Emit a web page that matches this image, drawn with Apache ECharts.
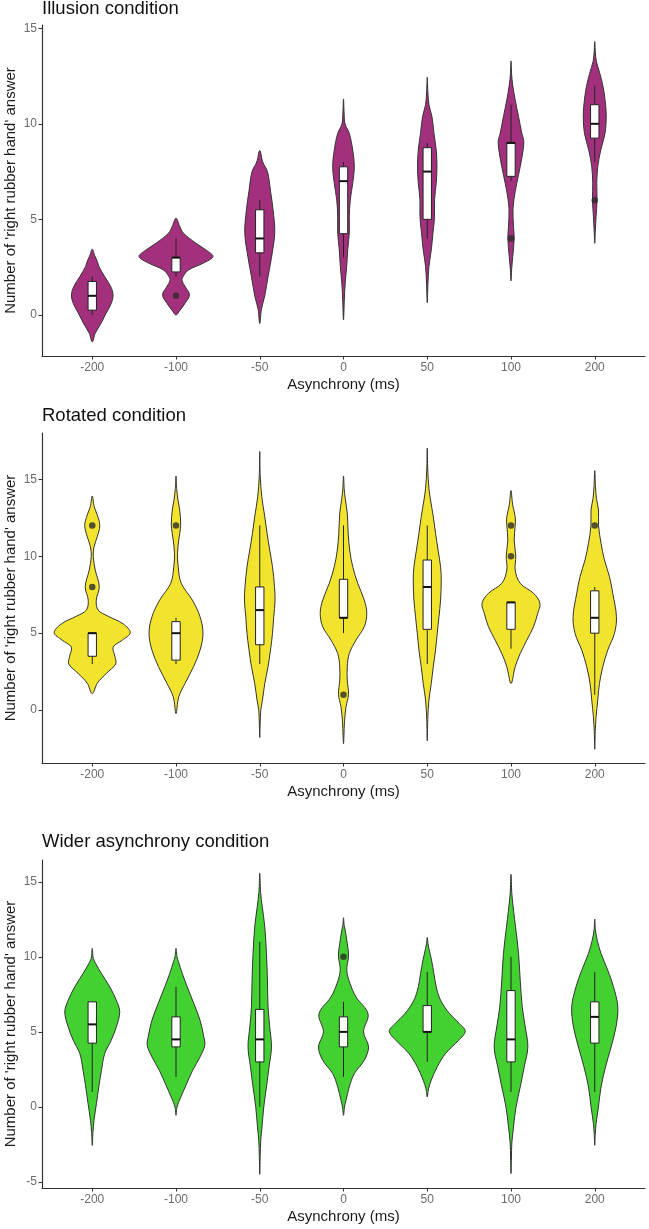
<!DOCTYPE html>
<html>
<head>
<meta charset="utf-8">
<script src="https://cdn.jsdelivr.net/npm/echarts@6/dist/echarts.min.js"></script>
<style>
html,body{margin:0;padding:0;background:#fff;}
#chart{width:649px;height:1229px;}
</style>
</head>
<body>
<div id="chart"></div>
<script>
// ---------- data ----------
const categories = ['-200', '-100', '-50', '0', '50', '100', '200'];

// violin profiles: [response value, half-width in category units], top to bottom
const illusionViolins = [
  [[3.44,0],[3.1,.030],[2.8,.060],[2.53,.080],[2.0,.149],[1.48,.221],[1.05,.248],[0.6,.227],[0.1,.167],[-0.42,.107],[-0.96,.036],[-1.41,0]],
  [[5.06,0],[4.6,.048],[4.27,.090],[3.75,.239],[3.4,.358],[3.05,.442],[2.7,.322],[2.35,.149],[2.0,.084],[1.8,.072],[1.5,.107],[1.05,.161],[0.6,.107],[0.25,.048],[0,0]],
  [[8.6,0],[8.0,.036],[7.5,.092],[6.5,.128],[5.5,.159],[4.3,.179],[3.0,.140],[2.0,.099],[1.0,.060],[0.3,.020],[-0.45,0]],
  [[11.3,0],[10.6,.007],[10.0,.018],[9.5,.069],[8.63,.110],[7.76,.129],[6.89,.110],[6.02,.081],[5.14,.069],[4.27,.069],[3.4,.050],[2.53,.038],[1.66,.020],[0.8,.010],[-0.26,0]],
  [[12.44,0],[11.7,.007],[11.0,.020],[10.38,.056],[9.51,.080],[8.63,.107],[7.76,.116],[6.89,.107],[6.02,.087],[5.14,.087],[4.27,.068],[3.4,.048],[2.53,.020],[1.6,.008],[0.64,0]],
  [[13.29,0],[12.6,.007],[12.04,.020],[11.25,.050],[10.38,.090],[9.51,.129],[9.07,.153],[8.2,.129],[7.33,.090],[6.45,.050],[5.58,.024],[4.62,.030],[4.01,.038],[3.05,.021],[2.4,.008],[1.78,0]],
  [[14.3,0],[13.7,.008],[13.26,.020],[12.65,.060],[11.95,.099],[11.25,.123],[10.47,.137],[9.51,.123],[8.63,.072],[7.76,.036],[6.89,.024],[6.02,.027],[5.14,.016],[4.4,.007],[3.75,0]]
];
const rotatedViolins = [
  [[13.91,0],[13.2,.024],[12.68,.060],[12.0,.090],[11.27,.060],[10.6,.021],[9.97,.012],[9.1,.036],[8.02,.084],[7.15,.048],[6.5,.070],[6.1,.190],[5.6,.370],[5.03,.454],[4.55,.360],[4.1,.250],[3.5,.270],[3.0,.280],[2.4,.170],[1.75,.060],[1.08,0]],
  [[15.21,0],[14.4,.008],[13.65,.024],[13.0,.044],[12.0,.056],[11.05,.033],[10.19,.018],[9.32,.026],[8.24,.063],[7.15,.195],[6.07,.287],[4.98,.322],[3.9,.287],[2.82,.209],[1.73,.107],[0.87,.033],[-0.22,0]],
  [[16.8,0],[15.2,.006],[13.87,.024],[12.57,.060],[11.49,.087],[10.4,.119],[9.32,.152],[8.02,.176],[7.15,.183],[6.07,.167],[4.98,.152],[3.9,.128],[2.82,.099],[1.73,.060],[0.65,.032],[0,.012],[-0.9,.005],[-1.78,0]],
  [[15.21,0],[14.4,.008],[13.76,.020],[12.79,.045],[11.49,.056],[10.4,.074],[9.32,.110],[8.24,.170],[7.15,.248],[6.29,.278],[5.42,.248],[4.55,.149],[3.68,.069],[2.82,.045],[1.95,.045],[1.02,.060],[0.22,.030],[-0.76,.012],[-2.17,0]],
  [[17.01,0],[15.6,.006],[14.41,.020],[13.65,.039],[12.57,.072],[11.49,.099],[10.4,.129],[9.32,.159],[8.45,.167],[7.15,.159],[6.07,.140],[4.98,.119],[3.9,.099],[2.82,.072],[1.73,.048],[0.65,.020],[-0.6,.006],[-1.99,0]],
  [[14.26,0],[13.33,.020],[12.57,.050],[12.0,.050],[11.05,.038],[10.01,.057],[9.1,.050],[8.24,.110],[7.59,.269],[6.94,.346],[6.29,.319],[5.42,.269],[4.55,.189],[3.68,.110],[2.82,.050],[1.73,0]],
  [[15.56,0],[14.6,.008],[13.76,.020],[13.0,.045],[12.0,.045],[10.84,.075],[9.75,.116],[8.67,.176],[7.59,.215],[6.07,.259],[4.98,.235],[3.9,.155],[2.82,.096],[1.73,.056],[0.65,.036],[-0.43,.016],[-1.4,.006],[-2.54,0]]
];
const widerViolins = [
  [[10.56,0],[9.9,.012],[9.56,.040],[8.89,.110],[8.0,.209],[7.11,.287],[6.33,.328],[5.33,.287],[4.44,.227],[3.56,.149],[2.44,.110],[1.33,.078],[0.22,.050],[-0.89,.021],[-1.7,.008],[-2.56,0]],
  [[10.56,0],[10.0,.012],[9.67,.030],[8.89,.075],[8.0,.134],[6.89,.213],[5.78,.287],[4.67,.332],[4.11,.344],[3.33,.287],[2.44,.199],[1.33,.110],[0.56,.050],[0,.012],[-0.56,0]],
  [[15.56,0],[14.3,.010],[13.33,.030],[12.0,.060],[10.22,.080],[8.44,.092],[6.67,.099],[5.33,.119],[4.0,.140],[2.67,.111],[1.33,.080],[0,.048],[-1.33,.027],[-2.22,.012],[-3.3,.005],[-4.49,0]],
  [[12.6,0],[12.1,.008],[11.78,.020],[10.89,.045],[10.04,.060],[9.11,.039],[8.22,.078],[7.33,.149],[6.2,.293],[5.0,.239],[4.0,.299],[3.11,.248],[2.22,.129],[1.33,.069],[0.44,.030],[0,.012],[-0.56,0]],
  [[11.29,0],[10.9,.008],[10.56,.020],[9.78,.051],[8.89,.080],[8.0,.107],[7.11,.159],[6.22,.266],[5.56,.382],[5.04,.454],[4.44,.374],[3.56,.219],[2.67,.119],[1.78,.048],[1.2,.015],[0.67,0]],
  [[15.49,0],[14.2,.010],[13.11,.030],[12.0,.054],[10.22,.090],[8.44,.110],[6.67,.134],[5.33,.170],[4.0,.201],[2.67,.158],[1.33,.110],[0,.060],[-1.33,.030],[-2.4,.010],[-3.4,.005],[-4.44,0]],
  [[12.51,0],[11.8,.008],[11.11,.030],[10.22,.075],[9.11,.155],[8.0,.224],[6.67,.275],[5.33,.254],[4.0,.195],[2.67,.129],[1.33,.075],[0,.044],[-1.11,.016],[-1.8,.006],[-2.56,0]]
];

// box stats: [lower whisker, q1, median, q3, upper whisker]
const illusionBoxes = [[0,0.25,1,1.75,2],[2,2.25,3,3,4],[2,3.25,4,5.5,6],[3,4.25,7,7.75,8],[4,5,7.5,8.75,9],[7,7.25,9,9,11],[8,9.25,10,11,12]];
const rotatedBoxes  = [[3,3.5,5,5,5],[3,3.25,5,5.75,6],[3,4.25,6.5,8,12],[5,6,6,8.5,12],[3,5.25,8,9.75,12],[4,5.25,7,7,7],[1,5,6,7.75,8]];
const widerBoxes    = [[1,4.25,5.5,7,7],[2,4,4.5,6,8],[0,3,4.5,6.5,11],[2,4,5,6,7],[3,5,5,6.75,9],[1,3,4.5,7.75,10],[1,4.25,6,7,9]];

// outliers: [category, value]
const illusionOutliers = [['-100',1],['100',4],['200',6]];
const rotatedOutliers  = [['-200',8],['-200',12],['-100',12],['0',1],['100',10],['100',12],['200',12]];
const widerOutliers    = [['0',10]];

// y tick labels
const illusionTicks = [0,5,10,15];
const rotatedTicks  = [0,5,10,15];
const widerTicks    = [-5,0,5,10,15];

// ---------- chart ----------
const panels = [
  {title:'Illusion condition', violins:illusionViolins, boxes:illusionBoxes, outliers:illusionOutliers, ticks:illusionTicks,
   color:'#a3307d', ymin:-2.15, ymax:15.17, top:25, height:331, titleY:9},
  {title:'Rotated condition', violins:rotatedViolins, boxes:rotatedBoxes, outliers:rotatedOutliers, ticks:rotatedTicks,
   color:'#f2e42c', ymin:-3.43, ymax:18.0, top:433, height:330, titleY:416},
  {title:'Wider asynchrony condition', violins:widerViolins, boxes:widerBoxes, outliers:widerOutliers, ticks:widerTicks,
   color:'#43d131', ymin:-5.4, ymax:16.45, top:860, height:328, titleY:842}
];

const FONT = '"Liberation Sans", Arial, sans-serif';
const catPos = categories.map((c, k) => k + 1);
const grid = [], xAxis = [], yAxis = [], series = [], graphic = [];

panels.forEach((p, n) => {
  grid.push({left:42, right:4, top:p.top, height:p.height, containLabel:false, outerBoundsMode:'none'});
  xAxis.push({
    type:'value', gridIndex:n, min:0.4, max:7.6,
    name:'Asynchrony (ms)', nameLocation:'middle', nameGap:21, nameMoveOverlap:false,
    nameTextStyle:{fontFamily:FONT, fontSize:15, color:'#1a1a1a'},
    axisLine:{onZero:false, lineStyle:{color:'#333', width:1.2}},
    axisTick:{show:true, customValues:catPos, length:3.5, lineStyle:{color:'#333', width:1}},
    axisLabel:{customValues:catPos, formatter:v => categories[Math.round(v) - 1], margin:6,
      fontFamily:FONT, fontSize:12, color:'#6b6b6b'},
    splitLine:{show:false}
  });
  yAxis.push({
    type:'value', gridIndex:n, min:p.ymin, max:p.ymax,
    name:"Number of 'right rubber hand' answer", nameLocation:'middle', nameGap:24, nameRotate:90, nameMoveOverlap:false,
    nameTextStyle:{fontFamily:FONT, fontSize:15, color:'#1a1a1a'},
    axisLine:{show:true, onZero:false, lineStyle:{color:'#333', width:1.2}},
    axisTick:{show:true, customValues:p.ticks, length:3.5, lineStyle:{color:'#333', width:1}},
    axisLabel:{customValues:p.ticks, margin:5, fontFamily:FONT, fontSize:12, color:'#6b6b6b'},
    splitLine:{show:false}
  });
  const posData = catPos.map(v => [v, 0]);
  series.push({
    type:'custom', xAxisIndex:n, yAxisIndex:n, z:2, silent:true,
    data:posData, encode:{x:0, y:1},
    renderItem:(params, api) => {
      const i = api.value(0);
      const prof = p.violins[i - 1];
      const pts = [];
      for (const [v, hw] of prof) pts.push(api.coord([i + hw, v]));
      for (let k = prof.length - 2; k >= 1; k--) { const [v, hw] = prof[k]; pts.push(api.coord([i - hw, v])); }
      return {type:'polygon', shape:{points:pts, smooth:0.35},
        style:{fill:p.color, stroke:'#333333', lineWidth:1}};
    }
  });
  series.push({
    type:'custom', xAxisIndex:n, yAxisIndex:n, z:3, silent:true,
    data:posData, encode:{x:0, y:1},
    renderItem:(params, api) => {
      const i = api.value(0);
      const [lo, q1, med, q3, hi] = p.boxes[i - 1];
      const hb = 0.05;
      const a = api.coord([i - hb, q3]), b = api.coord([i + hb, q1]);
      const cTop = api.coord([i, hi]), cQ3 = api.coord([i, q3]), cQ1 = api.coord([i, q1]), cLo = api.coord([i, lo]);
      const mL = api.coord([i - hb, med]), mR = api.coord([i + hb, med]);
      const ls = {stroke:'#222', lineWidth:1};
      return {type:'group', children:[
        {type:'line', shape:{x1:cTop[0], y1:cTop[1], x2:cQ3[0], y2:cQ3[1]}, style:ls},
        {type:'line', shape:{x1:cQ1[0], y1:cQ1[1], x2:cLo[0], y2:cLo[1]}, style:ls},
        {type:'rect', shape:{x:a[0], y:a[1], width:b[0] - a[0], height:b[1] - a[1]},
          style:{fill:'#ffffff', stroke:'#222', lineWidth:1}},
        {type:'line', shape:{x1:mL[0], y1:mL[1], x2:mR[0], y2:mR[1]}, style:{stroke:'#111', lineWidth:2}}
      ]};
    }
  });
  series.push({
    type:'scatter', xAxisIndex:n, yAxisIndex:n, z:4, silent:true,
    symbolSize:6.5, itemStyle:{color:'#2b2b2b'},
    data:p.outliers.map(([c, v]) => [categories.indexOf(c) + 1, v])
  });
  graphic.push({type:'text', x:42, y:p.titleY, style:{text:p.title, font:'18.5px ' + FONT, fill:'#111',
    align:'left', verticalAlign:'middle'}});
});

const chart = echarts.init(document.getElementById('chart'), null, {renderer:'canvas'});
chart.setOption({animation:false, backgroundColor:'#fff', grid, xAxis, yAxis, series, graphic});
</script>
</body>
</html>
